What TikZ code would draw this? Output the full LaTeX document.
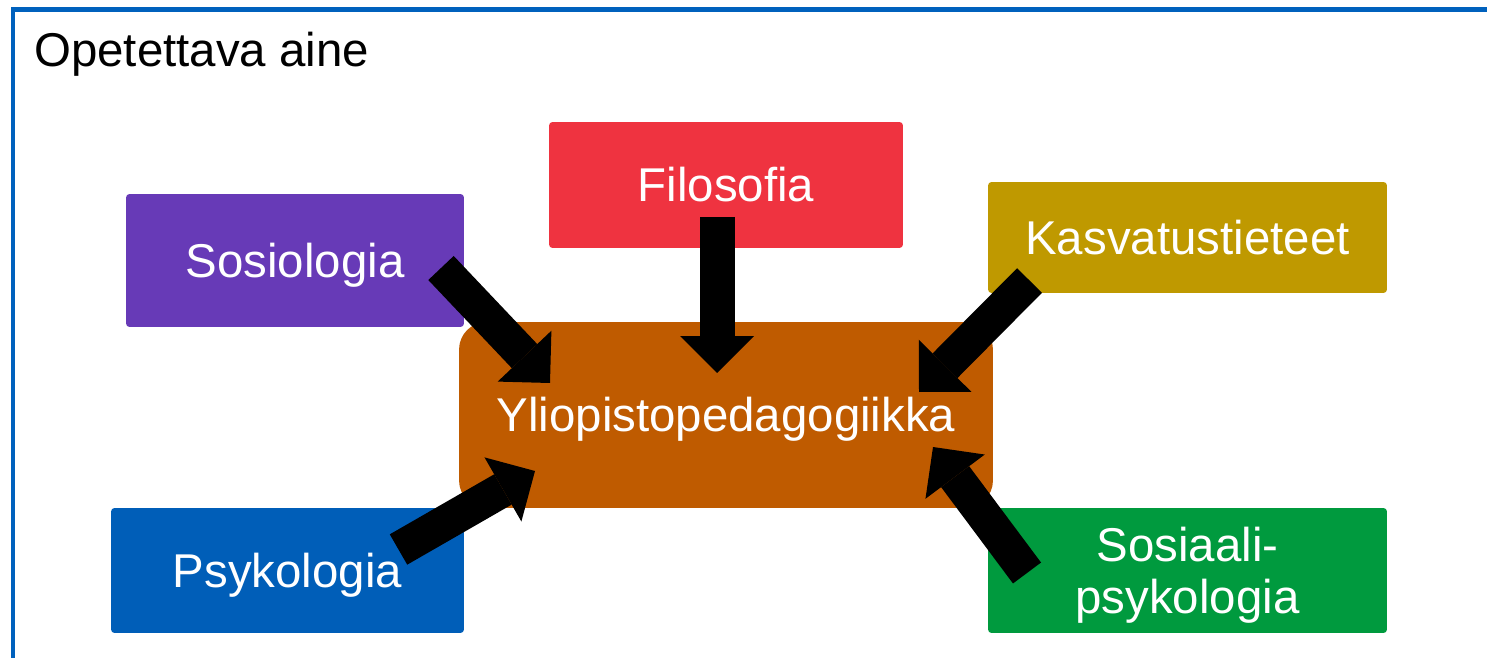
\documentclass[tikz,border=0pt]{standalone}
\usepackage{fontspec}
\setmainfont{Liberation Sans}
\usepackage{tikz}
\usetikzlibrary{arrows.meta}
\definecolor{kehys}{RGB}{0,97,189}
\definecolor{sos_c}{RGB}{103,58,183}
\definecolor{filo_c}{RGB}{239,51,64}
\definecolor{kasv_c}{RGB}{191,153,0}
\definecolor{psyk_c}{RGB}{0,94,184}
\definecolor{sp_c}{RGB}{0,154,62}
\definecolor{yli_c}{RGB}{191,91,0}
\tikzset{
  aine/.style = {rectangle, inner sep=0pt, align=center, text=white,
    font=\fontsize{27}{30}\selectfont, text height=0.68cm, text depth=0pt,
    rounded corners=2pt},% laatikko
  aine_keski/.style = {aine, rounded corners=0.55cm},% keskilaatikko
  nuoli/.style = {draw=black, line width=0.7cm,
    -{Triangle[length=0.74cm, width=1.48cm, line width=0pt]}}% paksu nuoli
}

\begin{document}
\begin{tikzpicture}[x=0.02cm, y=-0.02cm]
    \useasboundingbox (0,0) rectangle (1487,658);
    \clip (0,0) rectangle (1487,658);
    \draw [kehys, line width=0.1cm] (13,700) |- (1500,10);
    \node [anchor=base west, font=\fontsize{27}{30}\selectfont] (otsikko) at (28,67) {Opetettava aine};
    % aineet
    \node [aine, fill=sos_c, minimum width=6.76cm, minimum height=2.66cm] (sos) at (295,260.5) {Sosiologia};
    \node [aine, fill=filo_c, minimum width=7.08cm, minimum height=2.52cm] (filo) at (726,185) {Filosofia};
    \node [aine, fill=kasv_c, minimum width=7.98cm, minimum height=2.22cm] (kasv) at (1187.5,237.5) {Kasvatustieteet};
    \node [aine, fill=psyk_c, minimum width=7.06cm, minimum height=2.5cm] (psyk) at (287.5,570.5) {Psykologia};
    \node [aine, fill=sp_c, minimum width=7.98cm, minimum height=2.5cm, text height=1.74cm] (sp) at (1187.5,570.5) {Sosiaali-\\psykologia};
    \node [aine_keski, fill=yli_c, minimum width=10.68cm, minimum height=3.72cm] (yli) at (726,415) {Yliopistopedagogiikka};
    % nuolet
    \coordinate (sos_a) at (441,268);     \coordinate (sos_b) at (550,383);
    \coordinate (filo_a) at (717,217);    \coordinate (filo_b) at (717,373);
    \coordinate (kasv_a) at (1029.5,280.5); \coordinate (kasv_b) at (919,392);
    \coordinate (psyk_a) at (398.5,549.5);  \coordinate (psyk_b) at (535,471);
    \coordinate (sp_a) at (1027,573);     \coordinate (sp_b) at (933,447);
    \foreach \n in {sos,filo,kasv,psyk,sp}
        \draw [nuoli] (\n_a) -- (\n_b);
\end{tikzpicture}
\end{document}
